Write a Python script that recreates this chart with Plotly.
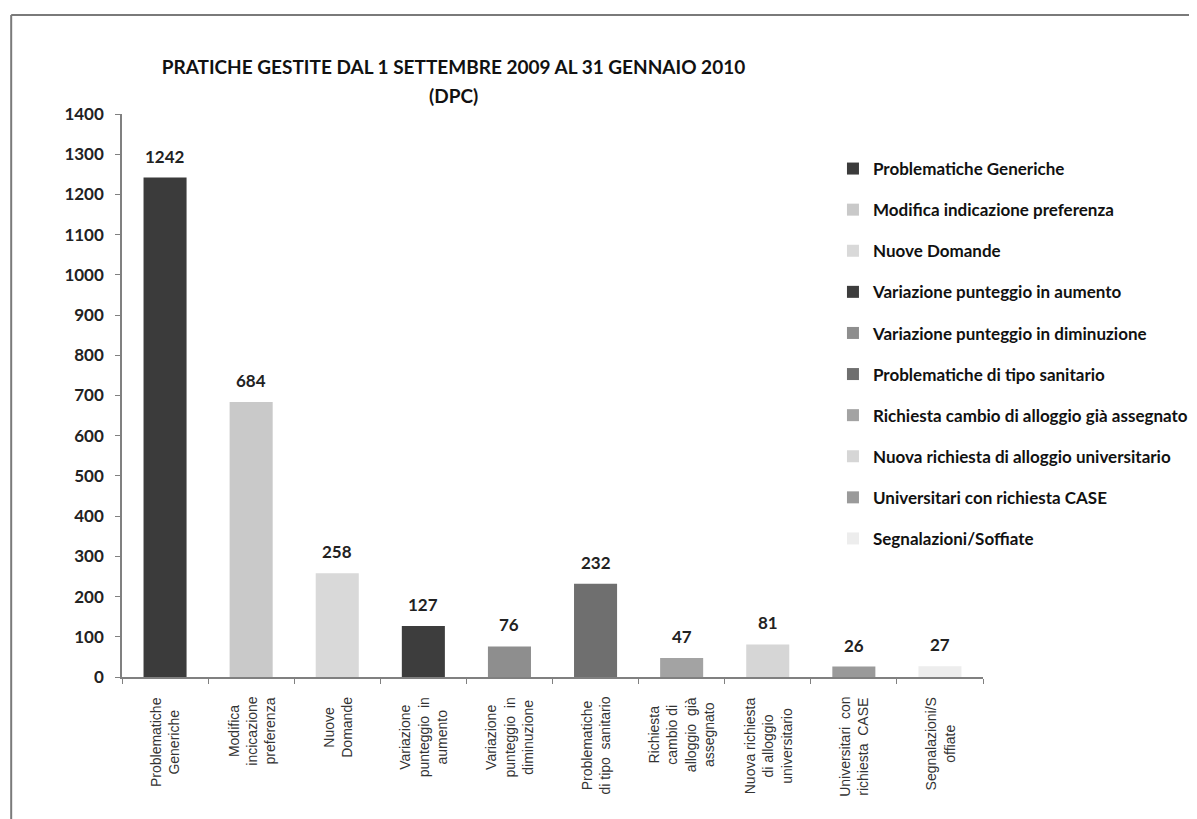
import plotly.graph_objects as go

categories = [
    "Problematiche Generiche",
    "Modifica indicazione preferenza",
    "Nuove Domande",
    "Variazione punteggio in aumento",
    "Variazione punteggio in diminuzione",
    "Problematiche di tipo sanitario",
    "Richiesta cambio di alloggio già assegnato",
    "Nuova richiesta di alloggio universitario",
    "Universitari con richiesta CASE",
    "Segnalazioni/Soffiate",
]
tick_labels = [
    "Problematiche<br>Generiche",
    "Modifica<br>incicazione<br>preferenza",
    "Nuove<br>Domande",
    "Variazione<br>punteggio  in<br>aumento",
    "Variazione<br>punteggio  in<br>diminuzione",
    "Problematiche<br>di tipo  sanitario",
    "Richiesta<br>cambio di<br>alloggio  già<br>assegnato",
    "Nuova richiesta<br>di alloggio<br>universitario",
    "Universitari  con<br>richiesta  CASE",
    "Segnalazioni/S<br>offiate",
]
values = [1242, 684, 258, 127, 76, 232, 47, 81, 26, 27]
colors = ["#3b3b3b", "#c9c9c9", "#d9d9d9", "#3d3d3d", "#8e8e8e",
          "#6f6f6f", "#a3a3a3", "#d6d6d6", "#9a9a9a", "#ededed"]

LABEL_FONT = "Lato"
OFF = 8  # page body margin offset

# reference pixel geometry
ref_left, ref_right, ref_top, ref_bottom = 122, 1000, 114, 677
L = ref_left - OFF
T = ref_top - OFF
R = 1197 - (ref_right - OFF)
B = 819 - (ref_bottom - OFF)
pw = 1197 - L - R
ph = 819 - T - B

def px2paper_x(px):
    return (px - OFF - L) / pw

def px2paper_y(py):
    return (819 - B - (py - OFF)) / ph

fig = go.Figure()
for i, (c, v, col) in enumerate(zip(categories, values, colors)):
    fig.add_trace(go.Bar(
        x=[c], y=[v], name=c, legendgroup=str(i),
        marker=dict(color=col, line=dict(color=col, width=0)),
        width=0.5,
    ))

annotations = []
for c, v in zip(categories, values):
    annotations.append(dict(
        x=c, y=v, xref="x", yref="y", text=str(v), showarrow=False,
        yanchor="bottom", yshift=9,
        font=dict(family=LABEL_FONT, size=17, color="#222222", weight="bold"),
    ))
for c, t in zip(categories, tick_labels):
    annotations.append(dict(
        x=c, y=0, xref="x", yref="paper", text=t, showarrow=False,
        textangle=-90, yanchor="top", xanchor="center", align="center",
        yshift=-18,
        font=dict(family="Liberation Sans", size=14, color="#333333"),
    ))
# second title line
annotations.append(dict(
    x=px2paper_x(460), y=px2paper_y(96), xref="paper", yref="paper",
    text="<b>(DPC)</b>", showarrow=False, xanchor="center", yanchor="middle",
    font=dict(family=LABEL_FONT, size=19, color="#111111"),
))

shapes = [
    dict(type="line", xref="paper", yref="paper",
         x0=px2paper_x(9), x1=px2paper_x(1220), y0=px2paper_y(15), y1=px2paper_y(15),
         line=dict(color="#7a7a7a", width=2)),
    dict(type="line", xref="paper", yref="paper",
         x0=px2paper_x(9), x1=px2paper_x(9), y0=px2paper_y(15), y1=px2paper_y(840),
         line=dict(color="#7a7a7a", width=2)),
]

fig.update_layout(
    width=1197, height=819,
    margin=dict(l=L, r=R, t=T, b=B),
    paper_bgcolor="white", plot_bgcolor="white",
    barmode="overlay",
    title=dict(
        text="<b>PRATICHE GESTITE DAL 1 SETTEMBRE 2009 AL 31 GENNAIO 2010</b>",
        xref="paper", x=px2paper_x(460), xanchor="center",
        yref="container", y=1 - (67 - OFF) / 819, yanchor="middle",
        font=dict(family=LABEL_FONT, size=19, color="#111111"),
    ),
    xaxis=dict(
        type="category", categoryorder="array", categoryarray=categories,
        showticklabels=False, showline=True, linecolor="#808080", linewidth=1.5,
        ticks="outside", tickson="boundaries", ticklen=5, tickcolor="#808080",
        showgrid=False, zeroline=False, range=[-0.5, 9.5], automargin=False,
    ),
    yaxis=dict(
        range=[0, 1400], dtick=100, showgrid=False, zeroline=False,
        showline=True, linecolor="#808080", linewidth=1.5,
        ticks="outside", ticklen=5, tickcolor="#808080",
        ticklabelstandoff=8, automargin=False,
        tickfont=dict(family=LABEL_FONT, size=17, color="#222222", weight="bold"),
    ),
    legend=dict(
        x=px2paper_x(847), y=px2paper_y(151), xanchor="left", yanchor="top",
        font=dict(family=LABEL_FONT, size=17, color="#111111", weight="bold"),
        tracegroupgap=16, itemwidth=30, bgcolor="rgba(0,0,0,0)",
    ),
    annotations=annotations,
    shapes=shapes,
    showlegend=True,
)

fig.write_html("out.html")
